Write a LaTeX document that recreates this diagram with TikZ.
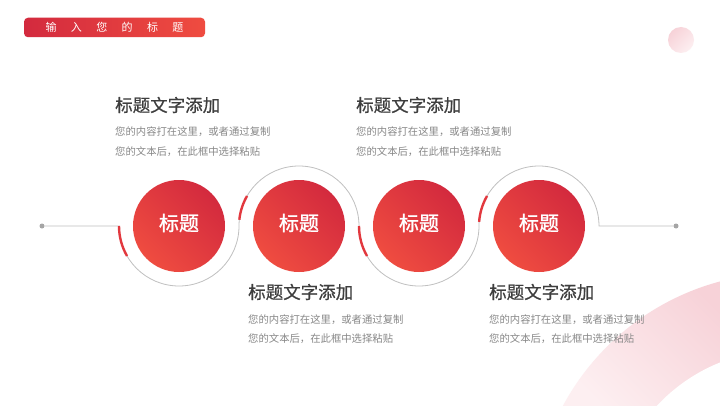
\documentclass[tikz,border=0pt]{standalone}
\usepackage{fontspec}
\setmainfont{Noto Sans CJK SC}
\newfontfamily\cjkmid[FakeBold=0.6]{Noto Sans CJK SC}
\newfontfamily\cjkball[FakeBold=1.1]{Noto Sans CJK SC}
\usetikzlibrary{calc}
\definecolor{darkred}{RGB}{211,42,62}
\definecolor{lightred}{RGB}{239,76,64}
\definecolor{titlegrey}{RGB}{62,62,62}
\definecolor{bodygrey}{RGB}{136,136,136}
\definecolor{linegrey}{RGB}{192,192,192}
\definecolor{dotgrey}{RGB}{165,165,165}
\definecolor{accentred}{RGB}{226,56,62}
\definecolor{pinkA}{RGB}{247,210,216}
\definecolor{pinkB}{RGB}{253,239,241}
\begin{document}
\begin{tikzpicture}[x=1pt,y=1pt,
 ball/.style={circle, minimum size=92pt, inner sep=0pt, top color=lightred, bottom color=darkred, shading angle=135},
 balltext/.style={text=white, font=\cjkball\fontsize{20}{24}\selectfont, inner sep=0pt},
 ttitle/.style={anchor=west, inner sep=0pt, text=titlegrey, font=\cjkmid\fontsize{17.5}{20}\selectfont},
 tbody/.style={anchor=west, inner sep=0pt, text=bodygrey, font=\fontsize{10.35}{12}\selectfont},
 greyline/.style={draw=linegrey, line width=0.8pt},
 redarc/.style={draw=accentred, line width=2.4pt},
 enddot/.style={circle, fill=dotgrey, minimum size=5pt, inner sep=0pt},
 banner/.style={rectangle, rounded corners=4pt, minimum width=181pt, minimum height=19.5pt, inner sep=0pt, left color=darkred, right color=lightred, text=white, font=\fontsize{11}{13}\selectfont},
]
\useasboundingbox (0,0) rectangle (720,405);
\fill[white] (0,0) rectangle (720,405);
% decorative ring
\begin{scope}
\clip (785,-120) circle (252);
\shade[top color=pinkB, bottom color=pinkA, shading angle=135] (555,0) rectangle (720,140);
\end{scope}
\fill[white] (785,-120) circle (175);
% small decorative circle
\shade[top color=pinkA, bottom color=pinkB, shading angle=45] (681,365) circle (13);
% header
\node[banner] (hdr) at (114.5,377.5) {输\hspace{14.4pt}入\hspace{14.4pt}您\hspace{14.4pt}的\hspace{14.4pt}标\hspace{14.4pt}题};
% circles
\node[ball] (c1) at (179,179) {};
\node[ball] (c2) at (299,179) {};
\node[ball] (c3) at (419,179) {};
\node[ball] (c4) at (539,179) {};
\node[balltext] (l1) at ($(c1)+(0,3)$) {标题};
\node[balltext] (l2) at ($(c2)+(0,3)$) {标题};
\node[balltext] (l3) at ($(c3)+(0,3)$) {标题};
\node[balltext] (l4) at ($(c4)+(0,3)$) {标题};
% end dots
\node[enddot] (dotL) at (42,179) {};
\node[enddot] (dotR) at (676,179) {};
% connector
\draw[greyline] (dotL) -- ($(c1)+(-60,0)$)
  arc[start angle=180, end angle=360, radius=60]
  arc[start angle=180, end angle=0, radius=60]
  arc[start angle=180, end angle=360, radius=60]
  arc[start angle=180, end angle=0, radius=60] -- (dotR);
% red accents
\draw[redarc] ($(c1)+(180:60)$) arc[start angle=180, end angle=210, radius=60];
\draw[redarc] ($(c2)+(150:60)$) arc[start angle=150, end angle=174, radius=60];
\draw[redarc] ($(c3)+(180:60)$) arc[start angle=180, end angle=210, radius=60];
\draw[redarc] ($(c4)+(150:60)$) arc[start angle=150, end angle=176, radius=60];
% text blocks
\node[ttitle] (t1) at (115,300) {标题文字添加};
\node[tbody] (t1a) at (115,273.5) {您的内容打在这里，或者通过复制};
\node[tbody] (t1b) at (115,253.5) {您的文本后，在此框中选择粘贴};
\node[ttitle] (t3) at (356,300) {标题文字添加};
\node[tbody] (t3a) at (356,273.5) {您的内容打在这里，或者通过复制};
\node[tbody] (t3b) at (356,253.5) {您的文本后，在此框中选择粘贴};
\node[ttitle] (t2) at (248,113) {标题文字添加};
\node[tbody] (t2a) at (248,85.5) {您的内容打在这里，或者通过复制};
\node[tbody] (t2b) at (248,66) {您的文本后，在此框中选择粘贴};
\node[ttitle] (t4) at (489,113) {标题文字添加};
\node[tbody] (t4a) at (489,85.5) {您的内容打在这里，或者通过复制};
\node[tbody] (t4b) at (489,66) {您的文本后，在此框中选择粘贴};
\end{tikzpicture}
\end{document}
